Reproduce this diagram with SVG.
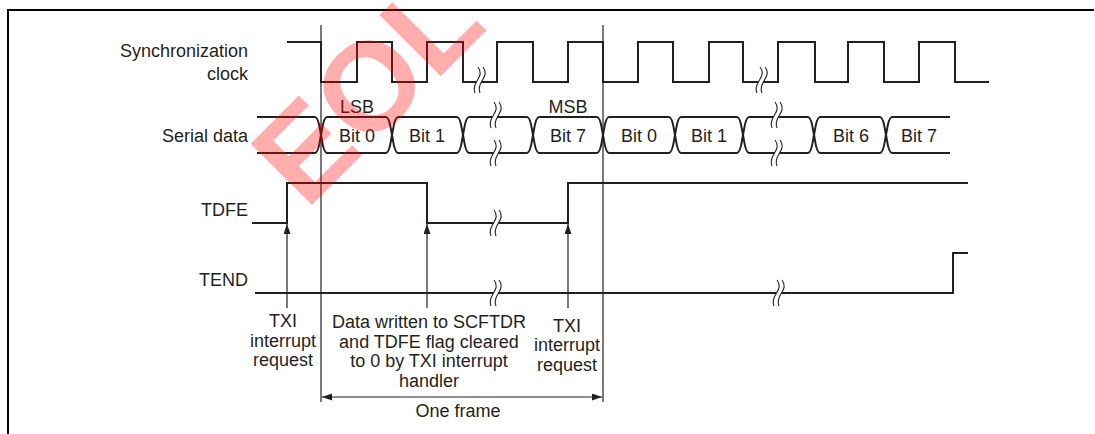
<svg xmlns="http://www.w3.org/2000/svg" xmlns:xlink="http://www.w3.org/1999/xlink" width="1095" height="434" viewBox="0 0 1095 434">
<style>
.sig{fill:none;stroke:#231f20;stroke-width:2;stroke-linejoin:miter}
.thin{fill:none;stroke:#231f20;stroke-width:1.2}
.border{fill:none;stroke:#000;stroke-width:2}
text{font-family:"Liberation Sans",Arial,sans-serif;font-size:18px;fill:#231f20}
.r{text-anchor:end}
.c{text-anchor:middle}
.wm{font-family:"Liberation Sans",Arial,sans-serif;font-weight:bold;font-size:126px;fill:#ff0000;fill-opacity:0.32}
</style>
<defs>
<marker id="ah" markerUnits="userSpaceOnUse" markerWidth="11" markerHeight="8" refX="10" refY="3.5" orient="auto-start-reverse">
<path d="M0,0 L10,3.5 L0,7 Z" fill="#231f20"/>
</marker>
<g id="brk">
<path d="M-1,-13 C3,-8 1,-4 -1.5,0 C-4,4 -6,9 -4,13 L1,13 C-1,9 1,4 3.5,0 C6,-4 8,-8 4,-13 Z" fill="#fff"/>
<path d="M-1,-13 C3,-8 1,-4 -1.5,0 C-4,4 -6,9 -4,13 M4,-13 C8,-8 6,-4 3.5,0 C1,4 -1,9 1,13" fill="none" stroke="#231f20" stroke-width="1.1"/>
</g>
</defs>
<rect width="1095" height="434" fill="#fff"/>
<path class="border" d="M8,434 V10 H1094"/>

<g id="labels">
<text class="r" x="248" y="57">Synchronization</text>
<text class="r" x="248" y="80">clock</text>
<text class="r" x="248" y="142">Serial data</text>
<text class="r" x="248" y="216">TDFE</text>
<text class="r" x="248" y="286">TEND</text>
</g>

<g id="clock">
<path class="sig" d="M287,42 H321 V82 H357 V42 H392 V82 H427 V42 H463 V82 H497 V42 H533 V82 H568 V42 H603 V82 H638 V42 H673 V82 H709 V42 H743 V82 H778 V42 H815 V82 H848 V42 H884 V82 H919 V42 H955 V82 H989"/>
<use xlink:href="#brk" x="479" y="80"/>
<use xlink:href="#brk" x="761" y="80"/>
</g>

<g id="serial-data">
<path class="sig" d="M257,117 H315 C319,117 320,131 321,135 C322,139 323,153 327,153 H386 C390,153 391,139 392,135 C393,131 394,117 398,117 H457 C461,117 462,131 463,135 C464,139 465,153 469,153 H527 C531,153 532,139 533,135 C534,131 535,117 539,117 H597 C601,117 602,131 603,135 C604,139 605,153 609,153 H669 C673,153 674,139 675,135 C676,131 677,117 681,117 H737 C741,117 742,131 743,135 C744,139 745,153 749,153 H808 C812,153 813,139 814,135 C815,131 816,117 820,117 H880 C884,117 885,131 886,135 C887,139 888,153 892,153 H950"/>
<path class="sig" d="M257,153 H315 C319,153 320,139 321,135 C322,131 323,117 327,117 H386 C390,117 391,131 392,135 C393,139 394,153 398,153 H457 C461,153 462,139 463,135 C464,131 465,117 469,117 H527 C531,117 532,131 533,135 C534,139 535,153 539,153 H597 C601,153 602,139 603,135 C604,131 605,117 609,117 H669 C673,117 674,131 675,135 C676,139 677,153 681,153 H737 C741,153 742,139 743,135 C744,131 745,117 749,117 H808 C812,117 813,131 814,135 C815,139 816,153 820,153 H880 C884,153 885,139 886,135 C887,131 888,117 892,117 H950"/>
<use xlink:href="#brk" x="495" y="115"/>
<use xlink:href="#brk" x="495" y="153"/>
<use xlink:href="#brk" x="776" y="115"/>
<use xlink:href="#brk" x="776" y="153"/>
<text class="c" x="357" y="113">LSB</text>
<text class="c" x="568" y="113">MSB</text>
<text class="c" x="357" y="142">Bit 0</text>
<text class="c" x="427" y="142">Bit 1</text>
<text class="c" x="568" y="142">Bit 7</text>
<text class="c" x="639" y="142">Bit 0</text>
<text class="c" x="709" y="142">Bit 1</text>
<text class="c" x="851" y="142">Bit 6</text>
<text class="c" x="919" y="142">Bit 7</text>
</g>

<g id="tdfe">
<path class="sig" d="M252,223 H287 V183 H427 V223 H568 V183 H968"/>
<use xlink:href="#brk" x="495" y="223"/>
</g>

<g id="tend">
<path class="sig" d="M255,293 H953 V253 H968"/>
<use xlink:href="#brk" x="495" y="293"/>
<use xlink:href="#brk" x="778" y="293"/>
</g>

<g id="connectors">
<line class="thin" x1="321" y1="25" x2="321" y2="402"/>
<line class="thin" x1="603" y1="25" x2="603" y2="402"/>
<line class="thin" x1="287" y1="308" x2="287" y2="224" marker-end="url(#ah)"/>
<line class="thin" x1="427" y1="308" x2="427" y2="224" marker-end="url(#ah)"/>
<line class="thin" x1="568" y1="308" x2="568" y2="224" marker-end="url(#ah)"/>
<line class="thin" x1="322" y1="397" x2="602" y2="397" marker-start="url(#ah)" marker-end="url(#ah)"/>
</g>

<g id="notes">
<text class="c" x="283" y="327">TXI</text>
<text class="c" x="283" y="346.5">interrupt</text>
<text class="c" x="283" y="366">request</text>
<text class="c" x="429" y="328">Data written to SCFTDR</text>
<text class="c" x="429" y="347.5">and TDFE flag cleared</text>
<text class="c" x="429" y="367">to 0 by TXI interrupt</text>
<text class="c" x="429" y="386.5">handler</text>
<text class="c" x="567" y="331.5">TXI</text>
<text class="c" x="567" y="351">interrupt</text>
<text class="c" x="567" y="370.5">request</text>
<text class="c" x="458" y="417">One frame</text>
</g>

<text class="wm" transform="translate(306,211) rotate(-45)">EOL</text>
</svg>
